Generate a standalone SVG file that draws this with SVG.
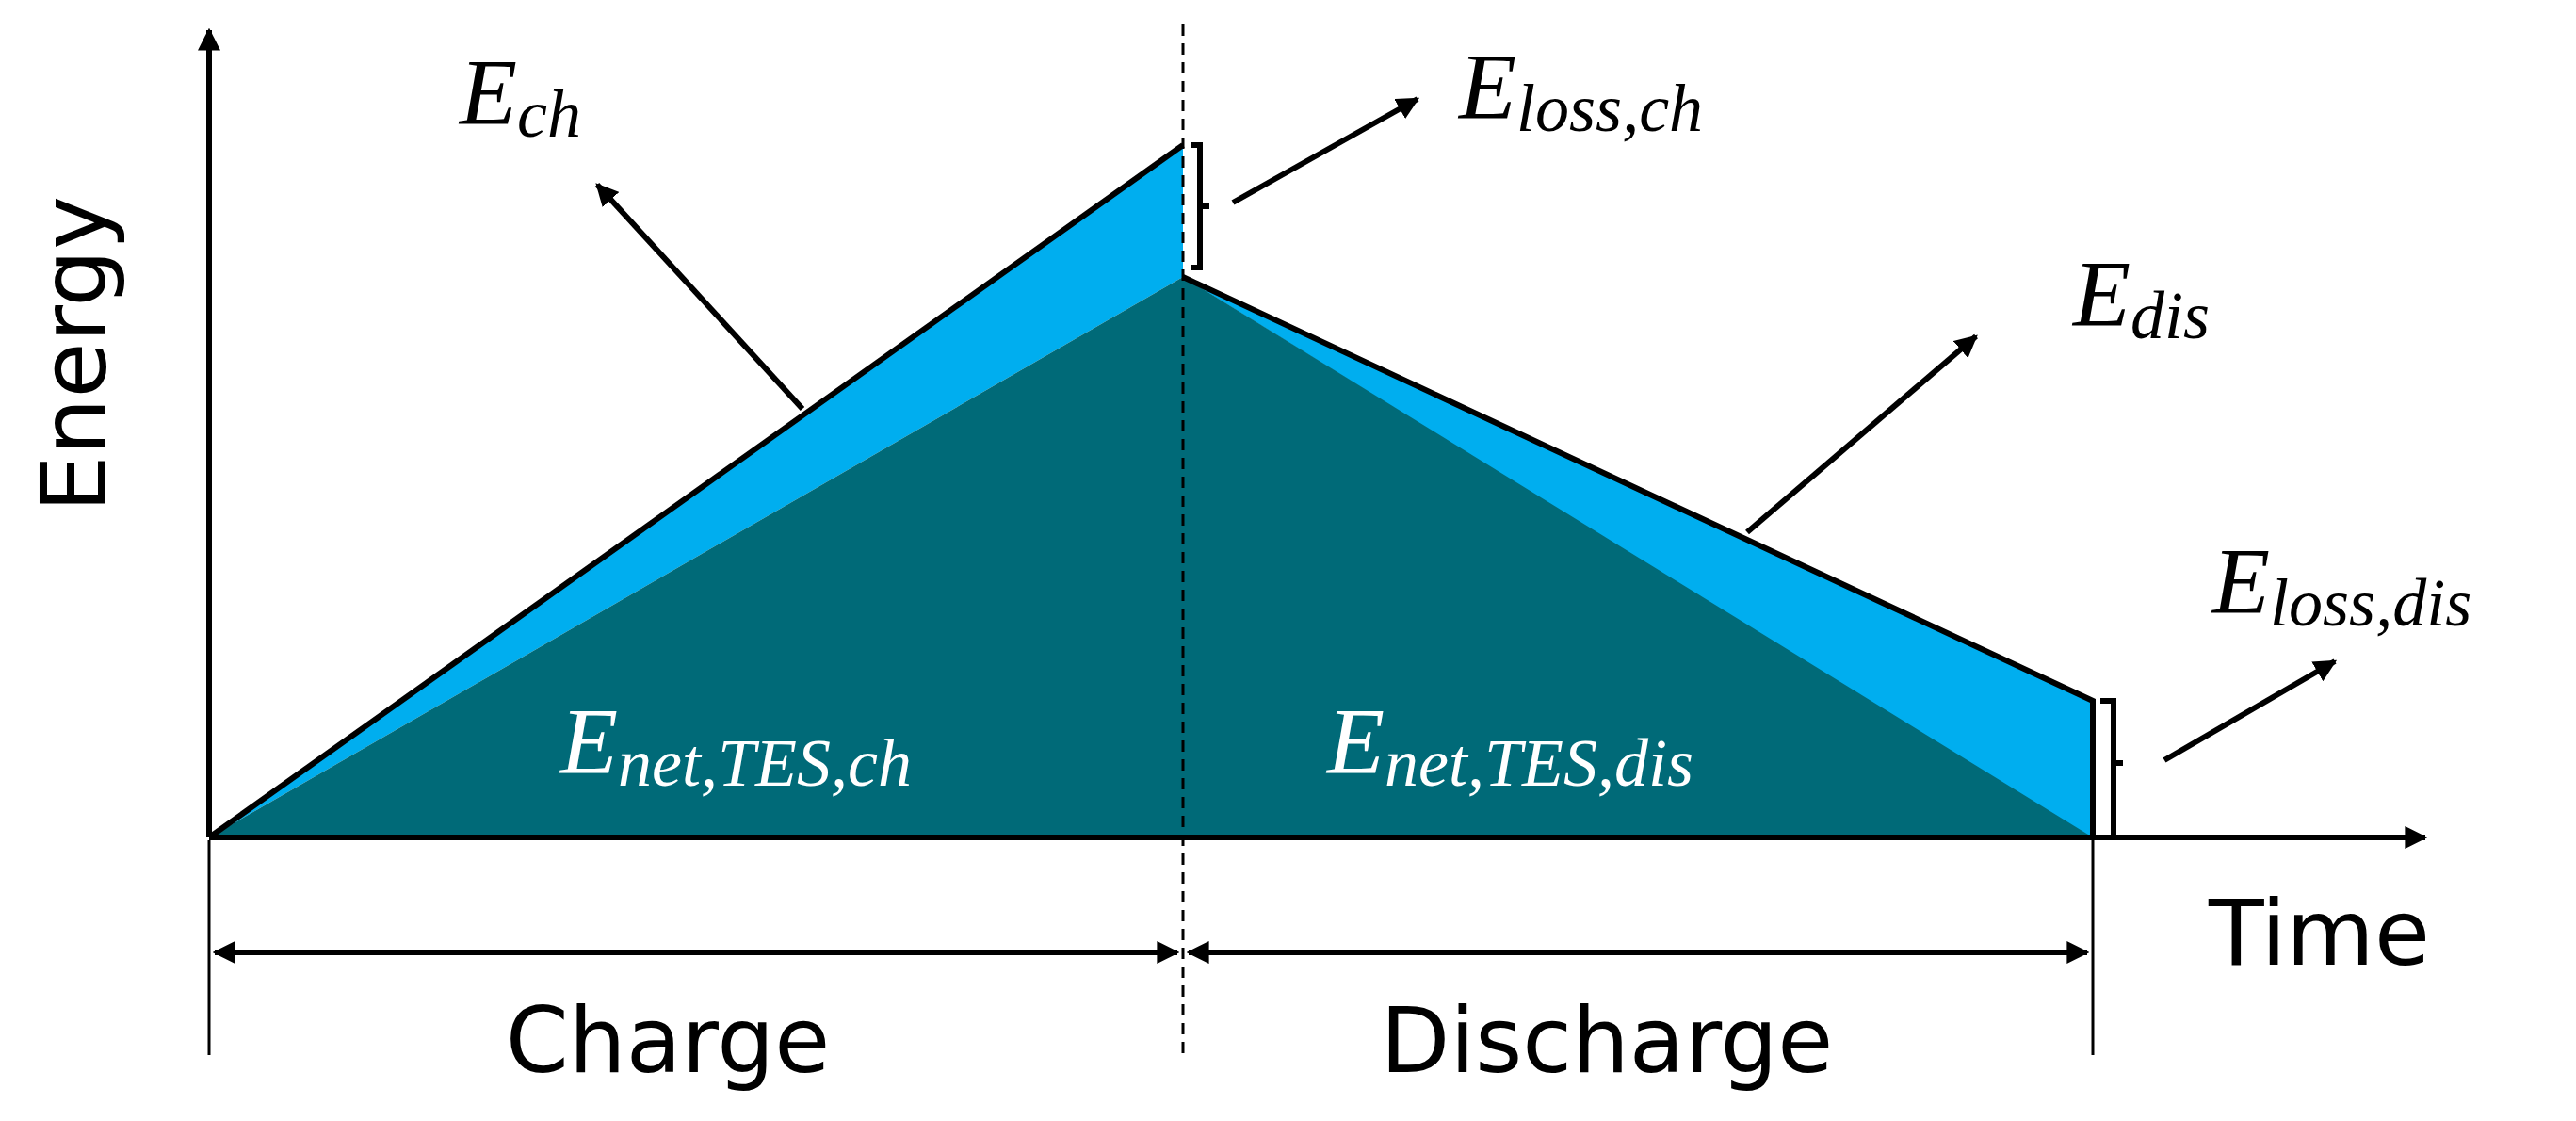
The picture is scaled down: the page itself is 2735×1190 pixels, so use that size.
<svg xmlns="http://www.w3.org/2000/svg" width="2735" height="1190" viewBox="0 0 2735 1190">
<style>
.ln{stroke:#000;stroke-width:6;fill:none}
.th{stroke:#000;stroke-width:3;fill:none}
.m{font-family:"Liberation Serif",serif;font-style:italic;font-size:100px}
.s{font-size:72px}
.t{font-family:"DejaVu Sans",sans-serif;font-size:96px}
</style>
<defs>
<marker id="ah" viewBox="0 0 10 10" refX="9" refY="5" markerWidth="6" markerHeight="6" orient="auto-start-reverse" markerUnits="strokeWidth"><path d="M0,0L10,5L0,10z" fill="#000"/></marker>
<marker id="as" viewBox="0 0 10 10" refX="9" refY="5" markerWidth="4" markerHeight="4" orient="auto-start-reverse" markerUnits="strokeWidth"><path d="M0,0L10,5L0,10z" fill="#000"/></marker>
</defs>
<g id="areas">
<polygon points="222,889 1256,154 1256,294" fill="#00AEEF"/>
<polygon points="1256,294 2222,744 2222,892" fill="#00AEEF"/>
<polygon points="222,889 1256,294 2222,889" fill="#006A78"/>
</g>
<g id="connectors">
<line class="ln" x1="222" y1="889" x2="222" y2="32" marker-end="url(#as)"/>
<line class="ln" x1="222" y1="889" x2="2575" y2="889" marker-end="url(#as)"/>
<polyline class="ln" points="222,889 1256,154"/>
<polyline class="ln" points="1256,294 2222,744 2222,889"/>
<line x1="1256" y1="26" x2="1256" y2="1120" stroke="#000" stroke-width="3" stroke-dasharray="12,8"/>
<line class="th" x1="222" y1="892" x2="222" y2="1120"/>
<line class="th" x1="2222" y1="889" x2="2222" y2="1120"/>
<line class="ln" x1="228" y1="1011" x2="1250" y2="1011" marker-start="url(#as)" marker-end="url(#as)"/>
<line class="ln" x1="1262" y1="1011" x2="2216" y2="1011" marker-start="url(#as)" marker-end="url(#as)"/>
<path class="ln" d="M1264,154 h10 v130 h-10 M1274,219 h10"/>
<path class="ln" d="M2230,744 h14 v145 h-14 M2244,810 h10"/>
<line class="ln" x1="852" y1="434" x2="634" y2="196" marker-end="url(#as)"/>
<line class="ln" x1="1309" y1="215" x2="1505" y2="105" marker-end="url(#as)"/>
<line class="ln" x1="1855" y1="565" x2="2098" y2="357" marker-end="url(#as)"/>
<line class="ln" x1="2298" y1="807" x2="2479" y2="702" marker-end="url(#as)"/>
</g>
<g id="labels">
<text class="m" x="488" y="131">E<tspan class="s" dy="14">ch</tspan></text>
<text class="m" x="1549" y="125">E<tspan class="s" dy="14">loss,ch</tspan></text>
<text class="m" x="2201" y="345">E<tspan class="s" dy="14">dis</tspan></text>
<text class="m" x="2349" y="650">E<tspan class="s" dy="14">loss,dis</tspan></text>
<text class="m" x="595" y="820" fill="#fff">E<tspan class="s" dy="14">net,TES,ch</tspan></text>
<text class="m" x="1409" y="820" fill="#fff">E<tspan class="s" dy="14">net,TES,dis</tspan></text>
<text class="t" transform="translate(112,376) rotate(-90)" text-anchor="middle">Energy</text>
<text class="t" x="2345" y="1024">Time</text>
<text class="t" x="709" y="1138" text-anchor="middle">Charge</text>
<text class="t" x="1706" y="1138" text-anchor="middle">Discharge</text>
</g>
</svg>
